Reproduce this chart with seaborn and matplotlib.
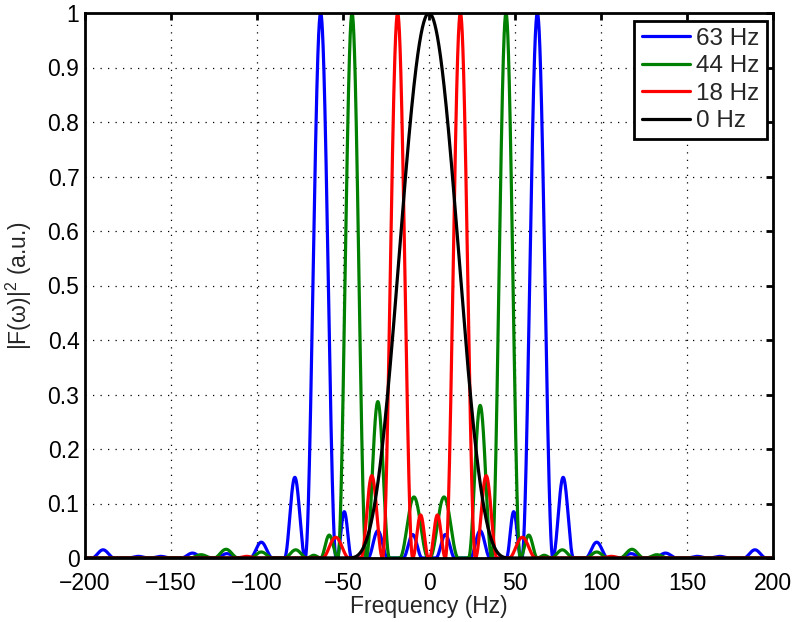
import numpy as np
import pandas as pd
import matplotlib
matplotlib.use("Agg")
import matplotlib.pyplot as plt
from matplotlib.lines import Line2D
import seaborn as sns

# ---------------- data ----------------
series_labels = ["63 Hz", "44 Hz", "18 Hz", "0 Hz"]
series_colors = ["#0000ff", "#008000", "#ff0000", "#000000"]

# each spectral lobe: left zero (Hz), right zero (Hz), peak height (a.u.)
blue_left = [-196, -175, -162, -144, -124, -104, -84, -72, -53.5, -35.5, -15,
             4, 24, 45, 54, 72, 91, 111, 131, 150, 163, 183]
blue_right = [-183, -163, -150, -131, -111, -91, -72, -54, -45, -24, -4,
              15, 35.5, 53.5, 72, 84, 104, 124, 144, 162, 175, 196]
blue_height = [0.015, 0.003, 0.003, 0.009, 0.008, 0.029, 0.148, 1.0, 0.085, 0.05, 0.043,
               0.043, 0.05, 0.085, 1.0, 0.148, 0.029, 0.008, 0.009, 0.003, 0.003, 0.015]

green_left = [-139, -125, -104, -84, -71, -63, -53, -36.5, -17,
              0.5, 23, 36.5, 53, 63, 71, 91, 111, 126]
green_right = [-126, -111, -91, -71, -63, -53, -36.5, -23, -0.5,
               17, 36.5, 53, 63, 71, 84, 104, 125, 139]
green_height = [0.006, 0.016, 0.011, 0.015, 0.005, 0.042, 1.0, 0.287, 0.112,
                0.112, 0.28, 1.0, 0.042, 0.005, 0.015, 0.011, 0.016, 0.006]

red_left = [-112, -62, -39.5, -27, -9.5, 0.3, 9.5, 27, 46.5, 100]
red_right = [-100, -46.5, -27, -9.5, -0.3, 9.5, 27, 39.5, 62, 112]
red_height = [0.003, 0.038, 0.151, 1.0, 0.079, 0.079, 1.0, 0.151, 0.038, 0.003]

black_left = [-48]
black_right = [48]
black_height = [1.0]

# sharpness of the lobe outline for each series
lobe_power = [2.0, 2.0, 2.0, 3.45]

xticks = [-200, -150, -100, -50, 0, 50, 100, 150, 200]
xtick_labels = ["\u2212200", "\u2212150", "\u2212100", "\u221250", "0", "50", "100", "150", "200"]
yticks = [0, 0.1, 0.2, 0.3, 0.4, 0.5, 0.6, 0.7, 0.8, 0.9, 1.0]
ytick_labels = ["0", "0.1", "0.2", "0.3", "0.4", "0.5", "0.6", "0.7", "0.8", "0.9", "1"]

# ---------------- build curves from the lobe tables ----------------
freq = np.linspace(-200, 200, 8001)


def lobe_curve(lefts, rights, heights, power):
    y = np.zeros_like(freq)
    for l, r, h in zip(lefts, rights, heights):
        m = (freq >= l) & (freq <= r)
        y[m] = h * np.sin(np.pi * (freq[m] - l) / (r - l)) ** power
    return y


tables = [
    (blue_left, blue_right, blue_height),
    (green_left, green_right, green_height),
    (red_left, red_right, red_height),
    (black_left, black_right, black_height),
]
frames = []
for lab, (l, r, h), p in zip(series_labels, tables, lobe_power):
    frames.append(pd.DataFrame({"Frequency": freq,
                                "Power": lobe_curve(l, r, h, p),
                                "series": lab}))
df = pd.concat(frames, ignore_index=True)

# ---------------- styling ----------------
sns.set_style("white")
plt.rcParams["font.family"] = ["Liberation Sans", "DejaVu Sans"]
plt.rcParams["mathtext.fontset"] = "custom"
plt.rcParams["mathtext.rm"] = "Liberation Sans"
plt.rcParams["mathtext.it"] = "Liberation Sans"
plt.rcParams["axes.unicode_minus"] = True

fig = plt.figure(figsize=(8, 6.22), dpi=100)
ax = fig.add_axes([85 / 800, 64 / 622, 688 / 800, 545 / 622])

palette = dict(zip(series_labels, series_colors))
sns.lineplot(data=df, x="Frequency", y="Power", hue="series",
             hue_order=series_labels, palette=palette, estimator=None,
             sort=False, linewidth=2.3, legend=False, ax=ax)

ax.set_xlim(-200, 200)
ax.set_ylim(0, 1)
ax.set_xticks(xticks)
ax.set_xticklabels(xtick_labels)
ax.set_yticks(yticks)
ax.set_yticklabels(ytick_labels)

for s in ax.spines.values():
    s.set_visible(True)
    s.set_color("black")
    s.set_linewidth(2.0)

ax.tick_params(direction="in", top=True, right=True, length=5, width=2.0,
               labelsize=16.5, colors="black")
ax.tick_params(axis="x", pad=10)
ax.tick_params(axis="y", pad=4)

ax.grid(True, color="black", linestyle=(0, (1, 5)), linewidth=0.9)
ax.set_axisbelow(True)

ax.set_xlabel("Frequency (Hz)", fontsize=16.5, labelpad=0)
ax.set_ylabel("|F(\u03c9)|$^2$ (a.u.)", fontsize=16.5, labelpad=10)

handles = [Line2D([0], [0], color=c, linewidth=2.3) for c in series_colors]
leg = ax.legend(handles, series_labels, loc="upper right",
                bbox_to_anchor=((767 - 85) / 688, (558 - 20.7) / 545),
                borderaxespad=0, fontsize=17.5, handlelength=2.0,
                handletextpad=0.25, labelspacing=0.22, borderpad=0.3,
                frameon=True, fancybox=False, framealpha=1)
leg.get_frame().set_edgecolor("black")
leg.get_frame().set_linewidth(2.0)

fig.savefig("out.png", dpi=100, facecolor="white")
